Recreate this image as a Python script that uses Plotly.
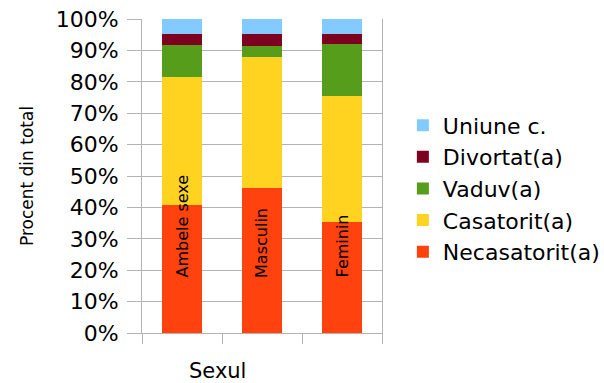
import plotly.graph_objects as go

categories = ["Ambele sexe", "Masculin", "Feminin"]
necasatorit = [40.8, 46.2, 35.4]
casatorit = [40.8, 41.7, 40.1]
vaduv = [10.1, 3.5, 16.5]
divortat = [3.5, 3.8, 3.2]
uniune = [4.8, 4.8, 4.8]
y_ticks = [0, 10, 20, 30, 40, 50, 60, 70, 80, 90, 100]
y_tick_labels = ["0%", "10%", "20%", "30%", "40%", "50%", "60%", "70%", "80%", "90%", "100%"]

series = [
    ("Necasatorit(a)", necasatorit, "#ff420e"),
    ("Casatorit(a)", casatorit, "#ffd320"),
    ("Vaduv(a)", vaduv, "#579d1c"),
    ("Divortat(a)", divortat, "#7e0021"),
    ("Uniune c.", uniune, "#83caff"),
]

FONT = "DejaVu Sans"
GRID = "#b3b3b3"

fig = go.Figure()
for name, vals, color in series:
    fig.add_trace(go.Bar(x=categories, y=vals, name=name,
                         marker=dict(color=color, line=dict(width=0)),
                         width=0.5))

for c in categories:
    fig.add_annotation(x=c, y=16.9, xref="x", yref="y", text=c, textangle=-90,
                       showarrow=False, xanchor="center", yanchor="bottom",
                       font=dict(family=FONT, size=16, color="black"))

fig.add_annotation(x=0.315, y=-0.12, xref="paper", yref="paper", text="Sexul",
                   showarrow=False, xanchor="center", yanchor="middle", borderpad=0,
                   font=dict(family=FONT, size=21, color="black"))
fig.add_annotation(x=-0.479, y=0.5, xref="paper", yref="paper", text="Procent din total",
                   textangle=-90, showarrow=False, xanchor="center", yanchor="middle",
                   font=dict(family=FONT, size=17, color="black"))

fig.update_layout(
    barmode="stack",
    width=604, height=383,
    margin=dict(l=142, r=222, t=19, b=50, autoexpand=False),
    paper_bgcolor="white", plot_bgcolor="white",
    font=dict(family=FONT, size=22, color="black"),
    legend=dict(x=0.667, y=0.508, xref="container", yref="container",
                xanchor="left", yanchor="middle",
                traceorder="reversed", font=dict(family=FONT, size=22, color="black"),
                bgcolor="rgba(0,0,0,0)"),
)
fig.update_xaxes(type="category", showticklabels=False, ticks="outside", ticklen=10,
                 tickcolor=GRID, tickson="boundaries", showgrid=False,
                 showline=True, linecolor=GRID, linewidth=1)
fig.update_yaxes(range=[0, 100], tickvals=y_ticks, ticktext=y_tick_labels, ticks="outside",
                 ticklen=14, tickcolor=GRID, showgrid=True, gridcolor=GRID, gridwidth=1,
                 showline=True, linecolor=GRID, linewidth=1, mirror=True,
                 zeroline=False, ticklabelstandoff=4,
                 tickfont=dict(family=FONT, size=22, color="black"))

fig.write_html("out.html")
